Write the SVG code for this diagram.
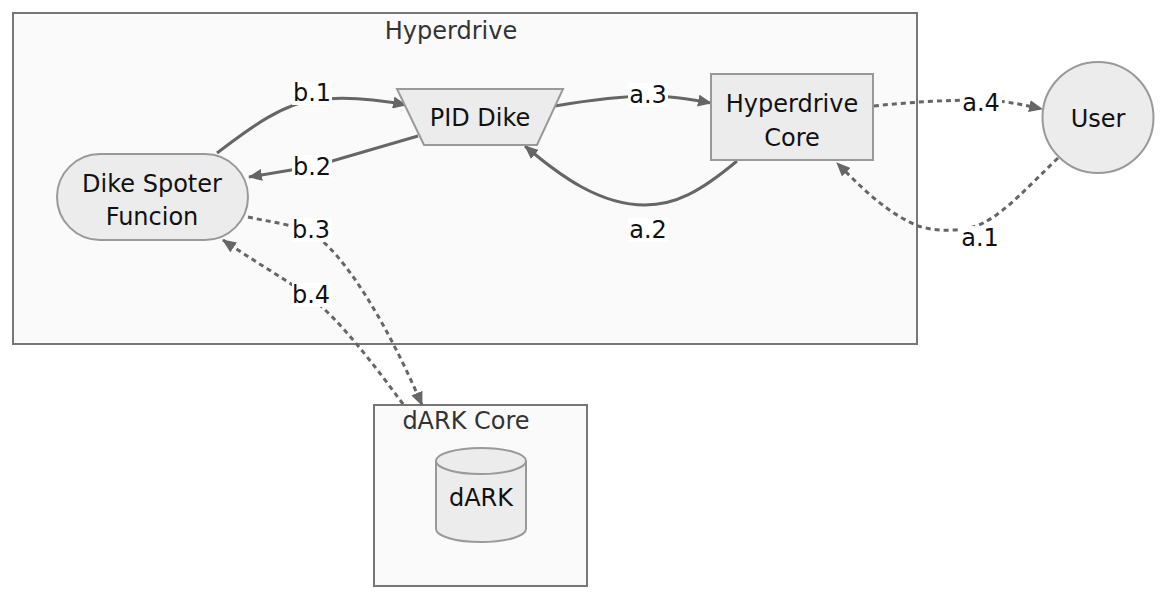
<svg xmlns="http://www.w3.org/2000/svg" width="1168" height="600" viewBox="0 0 1168 600">
<defs>
<style>
.cluster{fill:#fafafa;stroke:#777;stroke-width:2}
.node{fill:#ececec;stroke:#999;stroke-width:2}
.t{font-family:"DejaVu Sans",sans-serif;font-size:24px;fill:#111;text-anchor:middle;dominant-baseline:central}
.title{fill:#333}
.e{fill:none;stroke:#666;stroke-width:3}
.d{stroke-dasharray:5 4}
.lb{fill:#fff}
</style>
<marker id="ah" markerWidth="14" markerHeight="12" refX="13" refY="6" orient="auto" markerUnits="userSpaceOnUse">
<path d="M0,0 L14,6 L0,12 z" fill="#666"/>
</marker>
</defs>
<rect width="1168" height="600" fill="#fff"/>
<g id="cluster-hyperdrive">
<rect class="cluster" x="13" y="13" width="904" height="331"/>
<text class="t title" x="451" y="31">Hyperdrive</text>
</g>
<g id="cluster-dark-core">
<rect class="cluster" x="374" y="405" width="213" height="181"/>
<text class="t title" x="466" y="421">dARK Core</text>
</g>
<g id="connectors">
<path class="e" d="M217,153 C245,132 280,104 315,100 C345,96 375,99 406,105" marker-end="url(#ah)"/>
<path class="e" d="M418,136 L315,166 L249,177" marker-end="url(#ah)"/>
<path class="e" d="M555,106 C590,100 620,96 650,96 C670,96 690,99 711,103" marker-end="url(#ah)"/>
<path class="e" d="M737,161 C700,192 675,205 645,205 C600,205 560,176 525,146" marker-end="url(#ah)"/>
<path class="e d" d="M874,106 C910,102 950,100 980,100 C1000,100 1020,104 1042,109" marker-end="url(#ah)"/>
<path class="e d" d="M1058,158 C1030,185 1005,212 985,222 C970,231 940,233 918,226 C885,212 860,186 837,163" marker-end="url(#ah)"/>
<path class="e d" d="M248,217 C270,222 295,225 310,232 C345,252 390,330 422,405" marker-end="url(#ah)"/>
<path class="e d" d="M403,404 C372,362 338,318 310,297 C282,277 252,260 223,240" marker-end="url(#ah)"/>
<g id="edge-labels">
<rect class="lb" x="292" y="81" width="40" height="24"/><text class="t" x="312" y="93">b.1</text>
<rect class="lb" x="292" y="155" width="40" height="24"/><text class="t" x="312" y="167">b.2</text>
<rect class="lb" x="292" y="218" width="40" height="24"/><text class="t" x="311" y="230">b.3</text>
<rect class="lb" x="292" y="283" width="40" height="24"/><text class="t" x="311" y="295">b.4</text>
<rect class="lb" x="628" y="83" width="40" height="24"/><text class="t" x="648" y="95">a.3</text>
<rect class="lb" x="628" y="218" width="40" height="24"/><text class="t" x="648" y="230">a.2</text>
<rect class="lb" x="960" y="91" width="42" height="24"/><text class="t" x="981" y="103">a.4</text>
<rect class="lb" x="960" y="226" width="42" height="24"/><text class="t" x="980" y="238">a.1</text>
</g>
</g>
<g id="node-dike-spoter">
<rect class="node" x="57" y="154" width="191" height="86" rx="43" ry="43"/>
<text class="t" x="152" y="184">Dike Spoter</text>
<text class="t" x="152" y="217">Funcion</text>
</g>
<g id="node-pid-dike">
<polygon class="node" points="397,89 563,89 537,145 424,145"/>
<text class="t" x="480" y="118">PID Dike</text>
</g>
<g id="node-hyperdrive-core">
<rect class="node" x="711" y="74" width="162" height="86"/>
<text class="t" x="792" y="104">Hyperdrive</text>
<text class="t" x="792" y="138">Core</text>
</g>
<g id="node-user">
<circle class="node" cx="1098" cy="117.5" r="55.5"/>
<text class="t" x="1098" y="119">User</text>
</g>
<g id="node-dark">
<path class="node" d="M436,461 A45,13 0 0 1 526,461 L526,529 A45,13 0 0 1 436,529 Z"/>
<path class="node" d="M436,461 A45,13 0 0 0 526,461" fill="none"/>
<text class="t" x="481" y="498">dARK</text>
</g>
</svg>
